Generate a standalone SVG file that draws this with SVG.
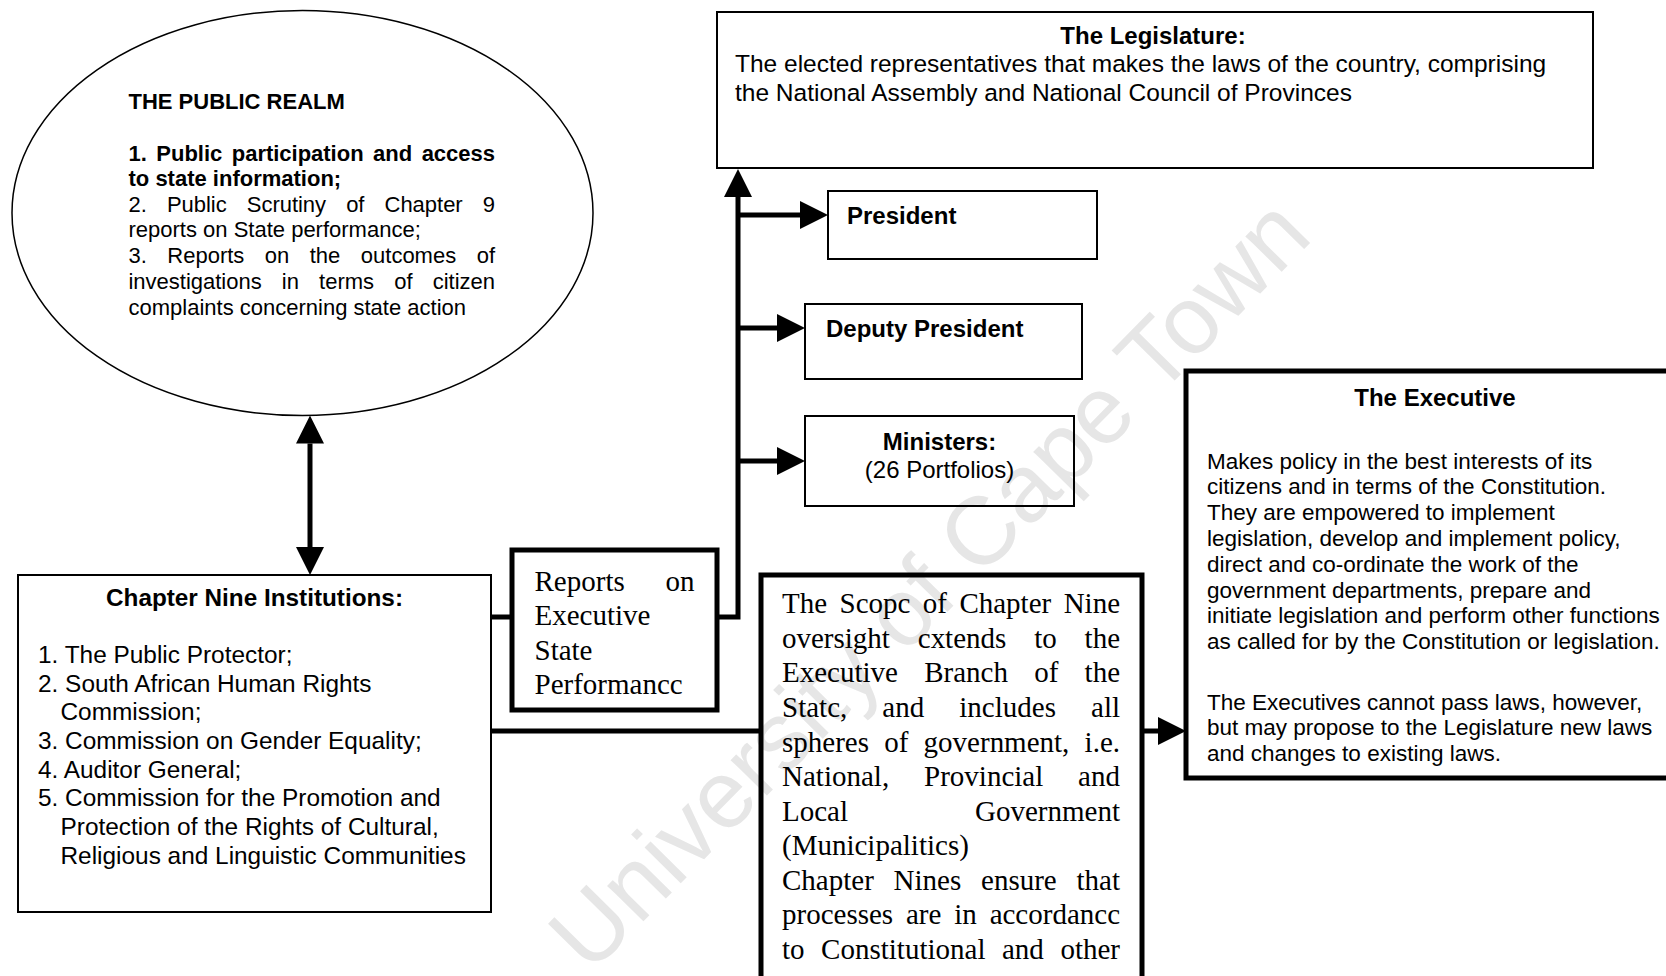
<svg xmlns="http://www.w3.org/2000/svg" width="1666" height="976" viewBox="0 0 1666 976">
<defs>
<style>
.sans{font-family:"Liberation Sans",Arial,sans-serif;fill:#000}
.serif{font-family:"Liberation Serif","Times New Roman",serif;fill:#000}
.b{font-weight:bold}
.thin{fill:none;stroke:#000;stroke-width:2}
.thick{fill:none;stroke:#000;stroke-width:5}
.con{fill:none;stroke:#000;stroke-width:5;stroke-linejoin:miter}
.wm{font-family:"Liberation Sans",Arial,sans-serif;fill:#e6e6e6}
</style>
<marker id="ah" viewBox="0 0 28 28" refX="0" refY="14" markerWidth="28" markerHeight="28" markerUnits="userSpaceOnUse" orient="auto-start-reverse">
<path d="M0,0 L28,14 L0,28 z" fill="#000"/>
</marker>
</defs>
<rect x="0" y="0" width="1666" height="976" fill="#fff"/>
<text class="wm" font-size="96" text-anchor="middle" transform="translate(928,583) rotate(-45.5)" y="34">University of Cape Town</text>

<g id="public-realm">
<ellipse cx="302.5" cy="213" rx="290.5" ry="202.5" fill="none" stroke="#000" stroke-width="1.5"/>
<g class="sans" font-size="22">
<text class="b" x="128.5" y="109">THE PUBLIC REALM</text>
<text class="b" x="128.5" y="160.5" word-spacing="3.4" textLength="366.5" lengthAdjust="spacing">1. Public participation and access</text>
<text class="b" x="128.5" y="186">to state information;</text>
<text x="128.5" y="211.5" word-spacing="14" textLength="366.5" lengthAdjust="spacing">2. Public Scrutiny of Chapter 9</text>
<text x="128.5" y="237">reports on State performance;</text>
<text x="128.5" y="263" word-spacing="14.4" textLength="366.5" lengthAdjust="spacing">3. Reports on the outcomes of</text>
<text x="128.5" y="289" word-spacing="14.1" textLength="366.5" lengthAdjust="spacing">investigations in terms of citizen</text>
<text x="128.5" y="314.5">complaints concerning state action</text>
</g>
</g>

<g id="legislature">
<rect class="thin" x="717" y="12" width="876" height="156"/>
<text class="sans b" font-size="24" x="1153" y="44" text-anchor="middle">The Legislature:</text>
<text class="sans" font-size="24.5" x="735" y="72">The elected representatives that makes the laws of the country, comprising</text>
<text class="sans" font-size="24.5" x="735" y="100.5">the National Assembly and National Council of Provinces</text>
</g>

<g id="president">
<rect class="thin" x="828" y="191" width="269" height="68"/>
<text class="sans b" font-size="24" x="847" y="224">President</text>
</g>

<g id="deputy-president">
<rect class="thin" x="805" y="304" width="277" height="75"/>
<text class="sans b" font-size="24" x="826" y="337">Deputy President</text>
</g>

<g id="ministers">
<rect class="thin" x="805" y="416" width="269" height="90"/>
<text class="sans b" font-size="24" x="939.5" y="449.5" text-anchor="middle">Ministers:</text>
<text class="sans" font-size="24" x="939.5" y="478" text-anchor="middle">(26 Portfolios)</text>
</g>

<g id="executive">
<rect class="thick" x="1186" y="371" width="500" height="407"/>
<text class="sans b" font-size="24" x="1435" y="406" text-anchor="middle">The Executive</text>
<g class="sans" font-size="22.5">
<text x="1207" y="468.5">Makes policy in the best interests of its</text>
<text x="1207" y="494.3">citizens and in terms of the Constitution.</text>
<text x="1207" y="520.1">They are empowered to implement</text>
<text x="1207" y="545.9">legislation, develop and implement policy,</text>
<text x="1207" y="571.7">direct and co-ordinate the work of the</text>
<text x="1207" y="597.5">government departments, prepare and</text>
<text x="1207" y="623.3">initiate legislation and perform other functions</text>
<text x="1207" y="649.1">as called for by the Constitution or legislation.</text>
<text x="1207" y="709.6">The Executives cannot pass laws, however,</text>
<text x="1207" y="735.4">but may propose to the Legislature new laws</text>
<text x="1207" y="761.2">and changes to existing laws.</text>
</g>
</g>

<g id="chapter-nine">
<rect class="thin" x="18" y="575" width="473" height="337"/>
<text class="sans b" font-size="24.3" x="254.5" y="605.5" text-anchor="middle">Chapter Nine Institutions:</text>
<g class="sans" font-size="24.4">
<text x="38" y="663">1. The Public Protector;</text>
<text x="38" y="691.7">2. South African Human Rights</text>
<text x="60.5" y="720.4">Commission;</text>
<text x="38" y="749.1">3. Commission on Gender Equality;</text>
<text x="38" y="777.8">4. Auditor General;</text>
<text x="38" y="806.4">5. Commission for the Promotion and</text>
<text x="60.5" y="835.1">Protection of the Rights of Cultural,</text>
<text x="60.5" y="863.8">Religious and Linguistic Communities</text>
</g>
</g>

<g id="reports">
<rect class="thick" x="512" y="550" width="205" height="160"/>
<g class="serif" font-size="29">
<text x="534.5" y="590.8" word-spacing="33.5" textLength="160" lengthAdjust="spacing">Reports on</text>
<text x="534.5" y="624.8">Executive</text>
<text x="534.5" y="659.8">State</text>
<text x="534.5" y="693.8">Performancc</text>
</g>
</g>

<g id="scope">
<rect class="thick" x="761" y="575" width="381" height="430"/>
<g class="serif" font-size="29">
<text x="782" y="613" word-spacing="5.2" textLength="338" lengthAdjust="spacing">The Scopc of Chapter Nine</text>
<text x="782" y="648" word-spacing="20.6" textLength="338" lengthAdjust="spacing">oversight cxtends to the</text>
<text x="782" y="682.2" word-spacing="19" textLength="338" lengthAdjust="spacing">Executive Branch of the</text>
<text x="782" y="717.2" word-spacing="27.8" textLength="338" lengthAdjust="spacing">Statc, and includes all</text>
<text x="782" y="752.3" word-spacing="8" textLength="338" lengthAdjust="spacing">spheres of government, i.e.</text>
<text x="782" y="786.3" word-spacing="27.6" textLength="338" lengthAdjust="spacing">National, Provincial and</text>
<text x="782" y="821.3" word-spacing="119.7" textLength="338" lengthAdjust="spacing">Local Government</text>
<text x="782" y="855.3">(Municipalitics)</text>
<text x="782" y="890.4" word-spacing="12.5" textLength="338" lengthAdjust="spacing">Chapter Nines ensure that</text>
<text x="782" y="924.4" word-spacing="5.6" textLength="338" lengthAdjust="spacing">processes are in accordancc</text>
<text x="782" y="959.4" word-spacing="9.3" textLength="338" lengthAdjust="spacing">to Constitutional and other</text>
</g>
</g>

<g id="connectors">
<path class="con" stroke-width="6" d="M310,443.5 V547" marker-start="url(#ah)" marker-end="url(#ah)"/>
<path class="con" d="M491,617 H512"/>
<path class="con" d="M717,617 H738 V197" marker-end="url(#ah)"/>
<path class="con" d="M738,215 H800" marker-end="url(#ah)"/>
<path class="con" d="M738,328 H777" marker-end="url(#ah)"/>
<path class="con" d="M738,461 H777" marker-end="url(#ah)"/>
<path class="con" stroke-width="4.5" d="M491,731 H761"/>
<path class="con" d="M1142,731 H1158" marker-end="url(#ah)"/>
</g>
</svg>
